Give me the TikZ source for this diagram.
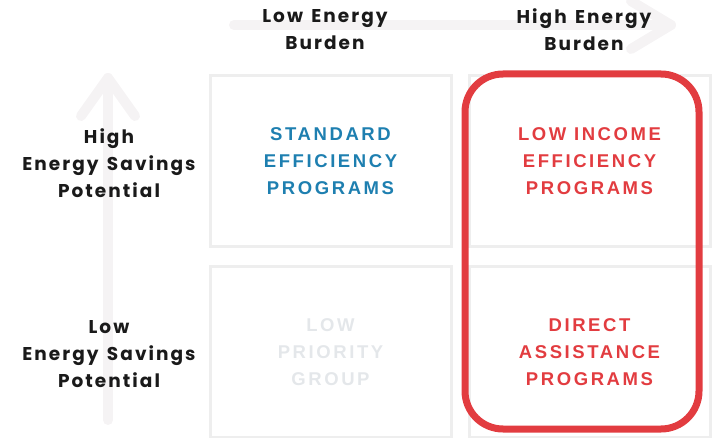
\documentclass[tikz,border=0pt]{standalone}
\usepackage{fontspec}
\setmainfont{Poppins}
\newfontfamily\capsfont{Liberation Sans}[LetterSpace=14]
\newfontfamily\headfont{Poppins}[LetterSpace=11, WordSpace=1.4]
\usetikzlibrary{positioning}
\definecolor{gridgray}{HTML}{EEEEEE}
\definecolor{arrowgray}{HTML}{F5F3F4}
\definecolor{stdblue}{HTML}{1E7FB0}
\definecolor{focusred}{HTML}{E23C40}
\definecolor{fadegray}{HTML}{E4E7EA}
\definecolor{inkblack}{HTML}{1A1A1A}
\tikzset{
  every picture/.style = {
    x = 1pt,
    y = -1pt,
  }
  ,
  axis-arrow/.style = {
    draw = arrowgray,
    line width = 10pt,
    line cap = round,
    line join = round
  }
  ,
  quadrant/.style = {
    rectangle,
    draw = gridgray,
    line width = 3pt,
    minimum width = 241pt,
    minimum height = 171pt,
    align = center,
    font = \capsfont\bfseries\fontsize{18.5}{27}\selectfont
  }
  , % column and row headings
  heading/.style = {
    align = center,
    text = inkblack,
    font = \headfont\bfseries\fontsize{18.5}{27}\selectfont
  }
  ,
  focus/.style = {
    draw = focusred,
    line width = 7pt,
    rounded corners = 38pt
  }
}
\begin{document}
\begin{tikzpicture}
\useasboundingbox (0,0) rectangle (712,438);

% axis arrows in the background
\coordinate (xstart) at (234,25);
\coordinate (xtip) at (671,25);
\coordinate (ystart) at (108,420);
\coordinate (ytip) at (108,78);
\draw[axis-arrow] (xstart) -- (xtip);
\draw[axis-arrow] ([shift={(-40,-24)}]xtip) -- (xtip) -- ([shift={(-40,24)}]xtip);
\draw[axis-arrow] (ystart) -- (ytip);
\draw[axis-arrow] ([shift={(-27,38)}]ytip) -- (ytip) -- ([shift={(27,38)}]ytip);

% quadrants
\node[quadrant, text = stdblue] at (330.5,161) (std) {STANDARD\\EFFICIENCY\\PROGRAMS};
\node[quadrant, text = focusred] at (589.5,161) (lowinc) {LOW INCOME\\EFFICIENCY\\PROGRAMS};
\node[quadrant, text = fadegray] at (330.5,352) (lowprio) {LOW\\PRIORITY\\GROUP};
\node[quadrant, text = focusred] at (589.5,352) (direct) {DIRECT\\ASSISTANCE\\PROGRAMS};

% headings
\node[heading] at (325,30) (lowburden) {Low Energy\\Burden};
\node[heading] at (584,30) (highburden) {High Energy\\Burden};
\node[heading] at (109,163) (highsave) {High\\Energy Savings\\Potential};
\node[heading] at (109,354) (lowsave) {Low\\Energy Savings\\Potential};

% high burden column
\coordinate (focusnw) at (465,74);
\coordinate (focusse) at (699,429);
\draw[focus] (focusnw) rectangle (focusse);
\end{tikzpicture}
\end{document}
